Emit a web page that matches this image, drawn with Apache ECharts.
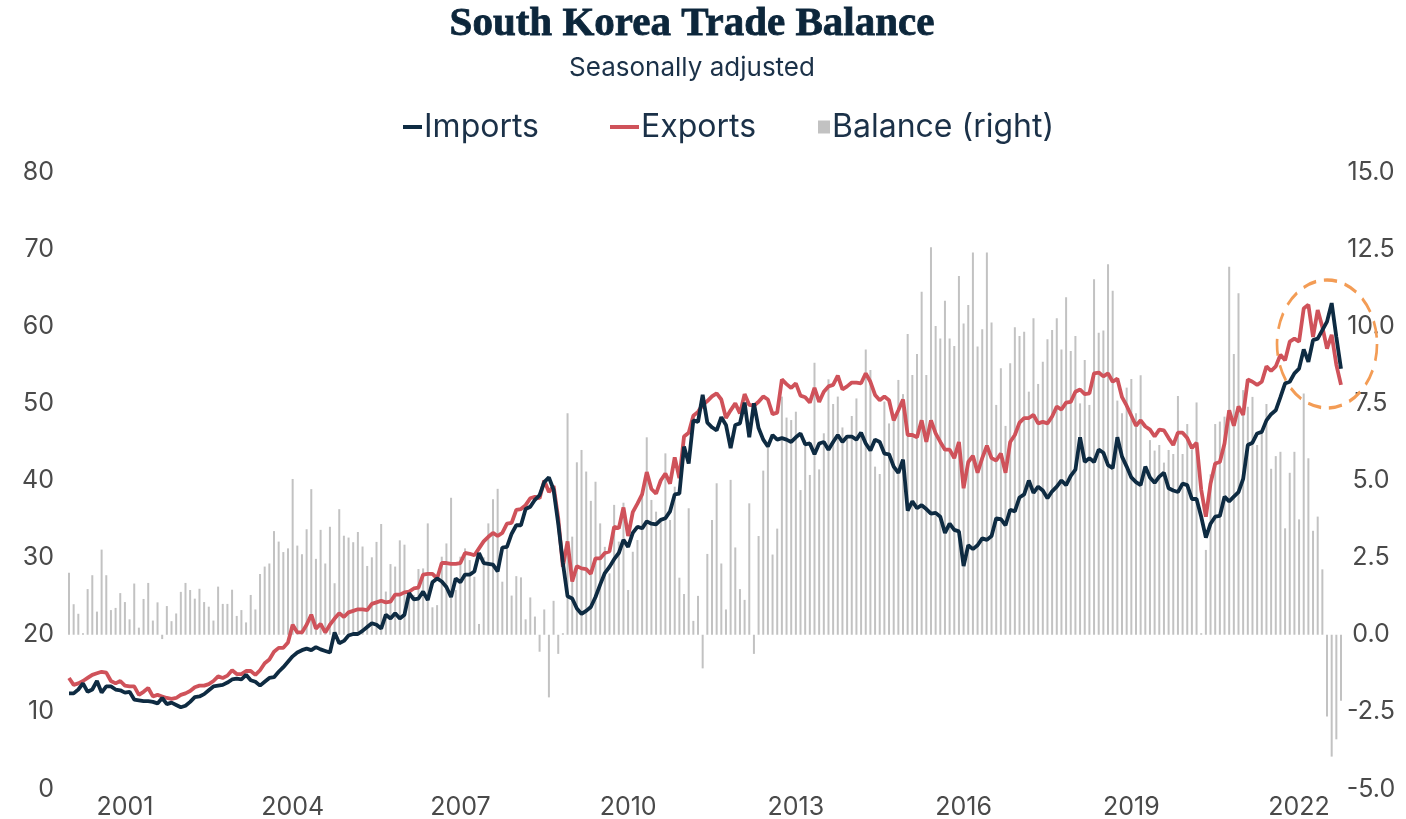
<!DOCTYPE html>
<html>
<head>
<meta charset="utf-8">
<title>South Korea Trade Balance</title>
<script src="https://cdn.jsdelivr.net/npm/echarts@6.0.0/dist/echarts.min.js"></script>
<style>
  html, body { margin: 0; padding: 0; background: #ffffff; }
  #chart { width: 1406px; height: 819px; }
</style>
</head>
<body>
<div id="chart"></div>
<script>
// monthly, Jan 2000 .. Oct 2022 (USD bn)
const months = [];
for (let y = 2000; y <= 2022; y++) {
  for (let m = 1; m <= 12; m++) {
    if (y === 2022 && m > 10) break;
    months.push(y + '-' + String(m).padStart(2, '0'));
  }
}

const exportsData = [
  14.4, 13.5, 13.7, 14.0, 14.4, 14.8, 15.0, 15.2, 15.1, 14.0,
  13.7, 14.0, 13.4, 13.3, 13.3, 12.2, 12.6, 13.1, 12.0, 12.2,
  12.0, 11.8, 11.7, 11.8, 12.2, 12.4, 12.7, 13.2, 13.4, 13.4,
  13.6, 14.0, 14.6, 14.4, 14.7, 15.4, 14.9, 14.9, 15.3, 15.3,
  14.8, 15.4, 16.3, 16.8, 17.8, 18.3, 18.3, 19.0, 21.3, 20.3,
  20.3, 21.3, 22.6, 20.8, 21.4, 20.3, 21.3, 22.1, 22.8, 22.3,
  22.9, 23.1, 23.3, 23.3, 23.2, 24.0, 24.2, 24.4, 24.2, 24.3,
  25.2, 25.2, 25.5, 25.6, 26.0, 26.1, 27.8, 27.9, 27.9, 27.3,
  29.3, 29.3, 29.2, 29.2, 29.3, 30.6, 30.5, 30.3, 31.2, 32.1,
  32.7, 33.2, 32.8, 33.2, 34.4, 34.5, 36.2, 36.3, 36.8, 37.7,
  37.9, 37.7, 40.0, 38.5, 39.3, 35.1, 28.8, 32.1, 26.9, 28.9,
  28.6, 28.5, 27.9, 29.9, 29.9, 30.6, 30.8, 34.0, 33.8, 36.5,
  32.8, 35.9, 37.0, 38.2, 41.1, 38.9, 38.3, 40.0, 40.9, 39.6,
  43.0, 40.3, 45.7, 46.2, 48.4, 48.9, 49.8, 50.3, 50.9, 51.3,
  50.5, 48.1, 49.1, 50.0, 48.7, 51.2, 49.8, 49.7, 50.2, 50.9,
  50.5, 48.6, 48.8, 53.1, 52.5, 52.0, 52.6, 51.0, 50.8, 50.1,
  52.0, 50.2, 51.5, 52.2, 52.4, 53.6, 51.8, 52.2, 52.7, 52.7,
  52.6, 53.9, 52.8, 51.1, 50.4, 50.9, 50.4, 47.8, 49.1, 50.5,
  45.9, 45.9, 45.6, 47.8, 45.0, 47.8, 46.1, 45.0, 44.0, 44.0,
  42.9, 45.0, 39.0, 42.4, 43.2, 41.0, 42.9, 44.5, 42.9, 42.6,
  43.5, 41.0, 45.0, 45.9, 47.5, 48.1, 48.1, 48.5, 47.4, 47.6,
  47.4, 48.3, 49.6, 49.2, 50.1, 50.2, 51.5, 51.8, 51.2, 51.3,
  53.9, 54.0, 53.5, 53.9, 52.8, 53.2, 50.8, 49.7, 48.4, 47.1,
  47.8, 47.0, 46.6, 45.7, 46.6, 46.5, 45.5, 44.6, 46.2, 46.2,
  45.5, 44.2, 44.9, 38.8, 35.3, 39.6, 42.2, 42.4, 44.8, 49.1,
  47.1, 49.6, 48.5, 53.1, 52.8, 52.4, 52.8, 54.8, 54.2, 54.8,
  56.3, 55.6, 58.0, 58.4, 58.0, 62.3, 62.8, 58.6, 62.1, 59.9,
  57.1, 58.9, 55.0, 52.4
];

const importsData = [
  12.4, 12.4, 12.9, 13.7, 12.6, 12.9, 14.0, 12.5, 13.3, 13.3,
  12.9, 12.8, 12.5, 12.6, 11.6, 11.5, 11.4, 11.4, 11.3, 11.1,
  11.8, 11.0, 11.2, 10.9, 10.6, 10.8, 11.3, 11.9, 12.0, 12.3,
  12.8, 13.3, 13.4, 13.5, 13.8, 14.2, 14.3, 14.2, 14.8, 14.1,
  13.9, 13.4, 13.9, 14.4, 14.5, 15.2, 15.8, 16.5, 17.2, 17.7,
  18.0, 18.2, 18.0, 18.4, 18.1, 17.9, 17.7, 20.3, 18.9, 19.2,
  19.9, 20.1, 20.1, 20.5, 21.0, 21.5, 21.3, 20.8, 22.6, 22.1,
  22.8, 22.1, 22.6, 25.4, 24.6, 24.7, 25.6, 24.5, 26.8, 27.3,
  26.9, 26.2, 24.9, 27.3, 26.8, 27.8, 27.8, 28.2, 30.6, 29.3,
  29.2, 29.1, 28.2, 31.3, 31.4, 33.1, 34.2, 34.2, 36.3, 36.6,
  37.5, 38.1, 39.8, 40.4, 38.8, 34.4, 29.3, 25.0, 24.7, 23.4,
  22.7, 23.1, 23.6, 24.9, 26.5, 28.0, 28.8, 29.8, 30.6, 32.3,
  31.4, 33.2, 34.0, 33.8, 34.7, 34.4, 34.3, 34.9, 35.1, 36.0,
  38.2, 38.3, 44.4, 42.2, 47.8, 47.6, 51.1, 47.5, 46.9, 46.5,
  48.2, 47.2, 44.2, 47.2, 47.4, 50.1, 45.6, 50.0, 46.8, 45.3,
  44.4, 45.9, 45.3, 45.5, 45.3, 45.0, 45.6, 46.1, 44.7, 44.8,
  43.4, 44.8, 45.0, 44.0, 45.0, 45.9, 45.0, 45.7, 45.7, 45.3,
  46.2, 44.8, 43.9, 45.3, 45.0, 43.5, 43.4, 41.8, 41.0, 42.7,
  36.1, 37.3, 36.4, 36.8, 36.3, 35.7, 35.8, 35.3, 33.2, 34.4,
  33.6, 33.4, 28.9, 31.6, 31.1, 31.6, 32.5, 32.3, 32.8, 35.1,
  35.0, 34.2, 36.2, 36.0, 37.8, 38.2, 40.0, 38.4, 39.2, 38.7,
  37.7, 38.6, 39.2, 40.0, 39.4, 40.6, 41.4, 45.6, 42.4, 42.9,
  42.4, 44.0, 43.6, 42.0, 41.6, 45.6, 43.1, 41.8, 40.4, 39.8,
  39.4, 41.8, 40.4, 39.7, 40.5, 41.0, 39.0, 38.7, 38.5, 39.6,
  39.4, 37.6, 37.6, 35.3, 32.6, 34.4, 35.3, 35.4, 37.9, 37.3,
  37.9, 38.5, 40.2, 44.6, 44.9, 46.1, 46.3, 47.8, 48.6, 49.1,
  50.8, 52.6, 52.8, 53.9, 54.5, 57.0, 55.4, 58.2, 58.4, 59.5,
  60.6, 63.0, 58.6, 54.5
];

const balanceData = [
  2.01, 0.99, 0.68, 0.05, 1.48, 1.93, 0.75, 2.76, 1.93, 0.80,
  0.87, 1.35, 1.06, 0.50, 1.66, 0.23, 1.16, 1.68, 0.46, 1.05,
  -0.14, 0.93, 0.44, 0.69, 1.39, 1.68, 1.45, 1.17, 1.49, 1.06,
  0.91, 0.46, 1.56, 1.00, 1.00, 1.46, 0.61, 0.80, 0.40, 1.29,
  0.82, 1.97, 2.21, 2.31, 3.36, 3.02, 2.68, 2.80, 5.05, 2.89,
  2.61, 3.42, 4.72, 2.46, 3.40, 2.31, 3.50, 1.67, 4.07, 3.21,
  3.15, 3.00, 3.33, 2.86, 2.23, 2.51, 3.01, 3.59, 1.40, 2.29,
  2.21, 3.06, 2.92, 1.45, 1.29, 2.13, 2.15, 3.61, 0.89, 0.96,
  2.53, 2.96, 4.44, 1.45, 2.53, 2.80, 2.42, 1.88, 0.35, 2.51,
  3.61, 4.39, 4.73, 1.72, 2.85, 1.27, 1.90, 1.86, 0.50, 1.21,
  0.59, -0.55, 0.82, -2.03, 1.10, -0.62, 0.05, 7.18, 3.18, 5.59,
  5.99, 5.29, 4.34, 4.96, 3.61, 2.85, 1.99, 4.21, 3.02, 4.28,
  1.45, 2.69, 3.07, 4.69, 6.40, 4.37, 3.99, 3.72, 5.88, 3.72,
  4.80, 1.85, 1.32, 4.10, 0.45, 1.26, -1.09, 2.62, 3.72, 4.91,
  2.31, 0.82, 5.02, 2.83, 1.48, 1.13, 4.26, -0.62, 3.20, 5.32,
  6.10, 2.60, 3.44, 7.72, 7.04, 6.96, 7.23, 4.69, 6.31, 5.18,
  8.82, 5.36, 6.53, 8.28, 7.48, 7.72, 6.72, 6.40, 7.09, 7.66,
  6.53, 9.25, 8.58, 5.45, 5.21, 7.56, 6.85, 7.09, 8.26, 7.80,
  9.75, 8.42, 9.10, 11.12, 8.42, 12.56, 10.01, 9.60, 10.83, 9.60,
  9.36, 11.63, 10.09, 10.69, 12.39, 9.34, 9.90, 12.39, 10.12, 7.45,
  8.64, 6.77, 8.80, 9.97, 9.68, 9.82, 7.88, 10.26, 8.13, 8.85,
  9.58, 9.88, 10.26, 9.25, 10.94, 9.20, 9.68, 7.50, 8.91, 7.45,
  11.52, 9.79, 9.86, 12.01, 11.15, 7.59, 7.18, 8.01, 8.29, 7.18,
  8.41, 5.39, 6.31, 5.97, 6.15, 5.58, 5.99, 5.86, 7.74, 5.86,
  6.83, 6.01, 7.53, 0.05, 2.75, 5.20, 6.83, 6.91, 7.07, 11.93,
  9.10, 11.07, 7.93, 7.39, 7.71, 6.15, 6.64, 7.48, 5.38, 5.79,
  5.93, 3.45, 5.25, 5.93, 3.74, 7.82, 5.72, 3.37, 3.83, 2.12,
  -2.65, -3.95, -3.39, -2.14
];

// where the dashed ring sits (month, value on left axis)
const highlightAt = ['2022-07', 57.7];

const navy = '#0e2b42';
const red = '#cf525a';
const grey = '#c2c2c2';
const textCol = '#1b3148';
const axisCol = '#4a4a4a';
const sans = 'Inter, "Noto Sans", sans-serif';

const chart = echarts.init(document.getElementById('chart'));

const legendBase = {
  top: 106,
  orient: 'horizontal',
  icon: 'rect',
  selectedMode: false,
  textStyle: { fontFamily: sans, fontSize: 32, color: textCol, padding: [0, 0, 0, -3] }
};

const option = {
  backgroundColor: '#ffffff',
  animation: false,
  graphic: [
    {
      id: 'title', type: 'text', x: 692, y: 24,
      style: {
        text: 'South Korea Trade Balance',
        font: 'bold 41px "Liberation Serif", serif',
        fill: '#0c263b', align: 'center', verticalAlign: 'middle',
        stroke: '#0c263b', lineWidth: 0.8
      }
    },
    {
      id: 'subtitle', type: 'text', x: 692, y: 68,
      style: {
        text: 'Seasonally adjusted',
        font: '26px ' + sans,
        fill: textCol, align: 'center', verticalAlign: 'middle'
      }
    }
  ],
  legend: [
    Object.assign({}, legendBase, { left: 398, itemWidth: 19, itemHeight: 4, data: ['Imports'] }),
    Object.assign({}, legendBase, { left: 605, itemWidth: 29, itemHeight: 4, data: ['Exports'] }),
    Object.assign({}, legendBase, { left: 813, itemWidth: 12, itemHeight: 13, data: ['Balance (right)'] })
  ],
  grid: { left: 69, right: 65, top: 172, bottom: 30, outerBoundsMode: 'none' },
  xAxis: {
    type: 'category',
    data: months,
    boundaryGap: false,
    axisLine: { show: false },
    axisTick: { show: false },
    splitLine: { show: false },
    axisLabel: {
      interval: (idx) => idx % 36 === 12,
      formatter: (v) => v.slice(0, 4),
      fontFamily: sans, fontSize: 25, color: axisCol, margin: 6,
      hideOverlap: false
    }
  },
  yAxis: [
    {
      type: 'value', min: 0, max: 80, interval: 10,
      axisLine: { show: false }, axisTick: { show: false }, splitLine: { show: false },
      axisLabel: { fontFamily: sans, fontSize: 25, color: axisCol, margin: 15 }
    },
    {
      type: 'value', min: -5, max: 15, interval: 2.5, position: 'right',
      axisLine: { show: false }, axisTick: { show: false }, splitLine: { show: false },
      axisLabel: {
        fontFamily: sans, fontSize: 25, color: axisCol, margin: 30, align: 'center',
        formatter: (v) => v.toFixed(1)
      }
    }
  ],
  series: [
    {
      name: 'Balance (right)', type: 'bar', yAxisIndex: 1, data: balanceData,
      barWidth: 2, clip: false, itemStyle: { color: grey }, z: 1
    },
    {
      name: 'Exports', type: 'line', data: exportsData, showSymbol: false,
      lineStyle: { color: red, width: 3.8 }, itemStyle: { color: red }, z: 3
    },
    {
      name: 'Imports', type: 'line', data: importsData, showSymbol: false,
      lineStyle: { color: navy, width: 3.8 }, itemStyle: { color: navy }, z: 4
    }
  ]
};

chart.setOption(option);

// dashed ring round the latest months
const c = chart.convertToPixel({ xAxisIndex: 0, yAxisIndex: 0 }, highlightAt);
chart.setOption({
  graphic: [{
    id: 'ring', type: 'circle', x: c[0], y: c[1], scaleX: 50 / 64, z: 10,
    shape: { cx: 0, cy: 0, r: 64 },
    style: { fill: 'none', stroke: '#f39c55', lineWidth: 3.4, lineDash: [17, 10], strokeNoScale: true }
  }]
});
</script>
</body>
</html>
